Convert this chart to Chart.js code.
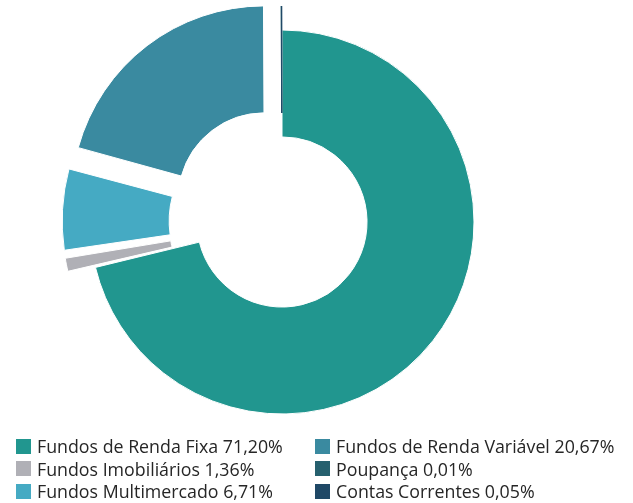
<!DOCTYPE html>
<html>
<head>
<meta charset="utf-8">
<script src="https://cdn.jsdelivr.net/npm/chart.js@4/dist/chart.umd.min.js"></script>
<style>
  html, body { margin: 0; padding: 0; background: #fff; }
  #wrap { position: relative; width: 633px; height: 503px; }
  #legend {
    position: absolute; left: 16px; top: 436px;
    display: grid; grid-template-columns: 299px auto; row-gap: 2px;
    font-family: "Open Sans", "Noto Sans", sans-serif; font-size: 17.8px; color: #262626;
  }
  .item { display: flex; align-items: center; height: 20.5px; white-space: nowrap; }
  .box { width: 15px; height: 15px; margin-right: 6px; flex: none; }
</style>
</head>
<body>
<div id="wrap">
  <canvas id="mycanvas" width="633" height="503"></canvas>
  <div id="legend"></div>
</div>
<script>
var labels = ['Fundos de Renda Fixa', 'Fundos Imobiliários', 'Fundos Multimercado',
              'Fundos de Renda Variável', 'Poupança', 'Contas Correntes'];
var shares = [71.20, 1.36, 6.71, 20.67, 0.01, 0.05];
var colors = ['#21968f', '#b0b0b6', '#45aac3', '#3a8aa0', '#26606e', '#1f4866'];

function pct(v) {
    return v.toFixed(2).replace('.', ',') + '%';
}

// legend: two columns, filled top to bottom
var legend = document.getElementById('legend');
var order = [0, 3, 1, 4, 2, 5];
order.forEach(function(i) {
    var el = document.createElement('div');
    el.className = 'item';
    el.innerHTML = '<span class="box" style="background:' + colors[i] + '"></span>' +
                   '<span>' + labels[i] + ' ' + pct(shares[i]) + '</span>';
    legend.appendChild(el);
});

var ctx = document.getElementById('mycanvas');
var myChart = new Chart(ctx, {
    type: 'doughnut',
    data: {
        labels: labels,
        datasets: [{
            data: shares,
            backgroundColor: colors,
            borderColor: ['#fff', '#fff', '#fff', '#fff', colors[4], colors[5]],
            borderWidth: 1,
            offset: [0, 58, 70, 116, 48, 48],
            hoverOffset: 0,
            radius: 192,
            cutout: '44.3%'
        }]
    },
    options: {
        responsive: false,
        animation: false,
        layout: { padding: { left: 0, right: 69, top: 0, bottom: 59 } },
        plugins: {
            legend: { display: false },
            tooltip: { enabled: false }
        }
    }
});
</script>
</body>
</html>
